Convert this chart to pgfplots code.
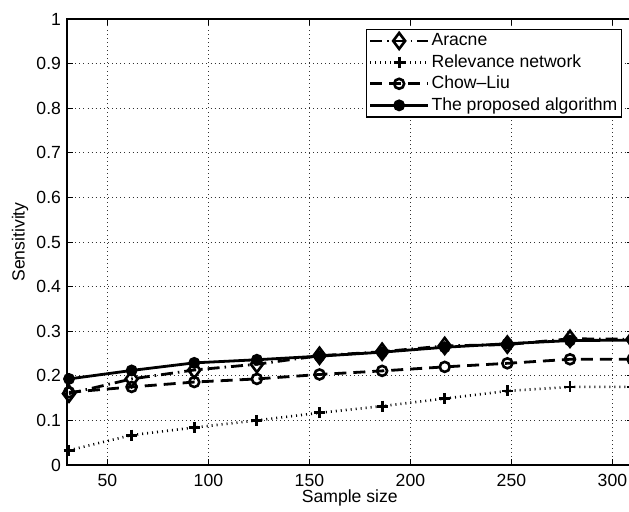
\documentclass[border=0pt]{standalone}
\usepackage{fontspec}
\setmainfont{Liberation Sans}
\usepackage{pgfplots}
\pgfplotsset{compat=1.18}
\begin{document}
\fontsize{17.6bp}{20bp}\selectfont
\begin{tikzpicture}
\begin{axis}[
  scale only axis, width=565.6bp, height=446bp,
  at={(67bp,47bp)}, anchor=south west,
  xmin=30, xmax=310, ymin=0, ymax=1,
  xtick={50,100,150,200,250,300},
  ytick={0,0.1,0.2,0.3,0.4,0.5,0.6,0.7,0.8,0.9,1},
  yticklabels={0,0.1,0.2,0.3,0.4,0.5,0.6,0.7,0.8,0.9,1},
  /pgf/number format/assume math mode=true,
  xticklabel style={yshift=-3bp},
  tick align=inside, major tick length=6bp,
  tick style={black, line width=0.7bp},
  grid=major, grid style={black!80, line width=0.8bp, dash pattern=on 0.8bp off 3.3bp},
  axis line style={line width=1.2bp},
  xlabel={Sample size}, ylabel={Sensitivity},
  xlabel style={at={(axis description cs:0.5,-0.074)}, anchor=center},
  ylabel style={at={(axis description cs:-0.0831,0.5)}, anchor=center, rotate=0},
  legend style={at={(rel axis cs:0.9813,0.9776)}, anchor=north east, draw=black,
     line width=1.2bp, inner xsep=2bp, inner ysep=2bp, row sep=2.2bp,
     /tikz/every even column/.append style={column sep=2bp}},
  legend cell align=left,
  legend image code/.code={\draw[line width=2.8bp, mark repeat=2, mark phase=2] plot coordinates {(0bp,0bp) (29bp,0bp) (58bp,0bp)};},
]
\addplot[black, line width=2.8bp, dash pattern=on 12bp off 5bp on 1.5bp off 5bp,
  mark=diamond, mark size=8bp, mark options={solid, fill=white, line width=2.6bp}] coordinates {
(31,0.160) (62,0.193) (93,0.213) (124,0.226) (155,0.245) (186,0.254) (217,0.267) (248,0.270) (279,0.283) (310,0.282)};
\addlegendentry{Aracne}
\addplot[black, line width=2.6bp, dash pattern=on 1bp off 4bp,
  mark=+, mark size=5.5bp, mark options={solid, line width=2.8bp}] coordinates {
(31,0.033) (62,0.067) (93,0.084) (124,0.100) (155,0.117) (186,0.132) (217,0.149) (248,0.166) (279,0.175) (310,0.175)};
\addlegendentry{Relevance network}
\addplot[black, line width=2.8bp, dash pattern=on 12bp off 7bp,
  mark=o, mark size=5bp, mark options={solid, line width=2.6bp}] coordinates {
(31,0.163) (62,0.175) (93,0.186) (124,0.193) (155,0.203) (186,0.211) (217,0.220) (248,0.228) (279,0.237) (310,0.237)};
\addlegendentry{Chow--Liu}
\addplot[black, line width=2.8bp, solid,
  mark=*, mark size=4.5bp] coordinates {
(31,0.193) (62,0.212) (93,0.229) (124,0.236) (155,0.244) (186,0.253) (217,0.264) (248,0.272) (279,0.279) (310,0.280)};
\addlegendentry{The proposed algorithm}
\end{axis}
\pgfresetboundingbox
\useasboundingbox (0,0) rectangle (629bp,512bp);
\end{tikzpicture}
\end{document}
